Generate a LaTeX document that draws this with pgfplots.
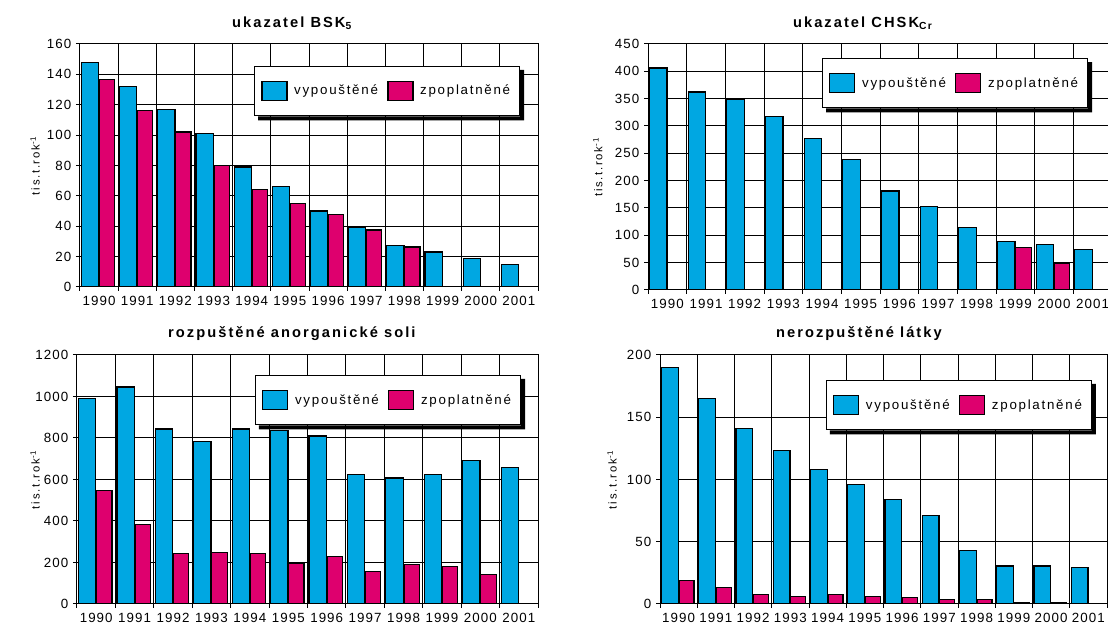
\documentclass[border=0pt]{standalone}
\usepackage{pgfplots}
\pgfplotsset{compat=1.18}
\usepackage{fontspec}
\setmainfont{Liberation Sans}
\newfontfamily\ticksf[LetterSpace=8]{Liberation Sans}
\newfontfamily\legsf[LetterSpace=13]{Liberation Sans}
\newfontfamily\titlesf[LetterSpace=14]{Liberation Sans}
\newfontfamily\ylabsf[LetterSpace=15]{Liberation Sans}
\definecolor{vyp}{RGB}{0,167,226}
\definecolor{zpo}{RGB}{222,0,110}

\pgfplotsset{
  panel/.style={
    scale only axis,
    anchor=north west,
    ybar,
    xmin=-0.5, xmax=11.5, ymin=0,
    xtick={0,...,11},
    xticklabels={1990,1991,1992,1993,1994,1995,1996,1997,1998,1999,2000,2001},
    minor xtick={-0.5,0.5,...,11.5},
    tick align=outside,
    tick pos=left,
    major tick length=3pt, minor tick length=3pt,
    major x tick style={draw=none},
    every tick/.style={black, line width=0.75pt},
    ymajorgrids, xminorgrids,
    grid style={black, line width=0.75pt},
    major grid style={black, line width=0.75pt},
    minor grid style={black, line width=0.75pt},
    axis line style={line width=0.75pt},
    /pgf/number format/assume math mode=true,
    /pgf/number format/1000 sep={},
    tick label style={font=\ticksf\fontsize{10}{12}\selectfont, black},
    ylabel={tis.t.rok\textsuperscript{-1}},
    ylabel style={anchor=center, rotate=0, font=\ylabsf\fontsize{8.5}{10}\selectfont},
    title style={anchor=south, yshift=1pt, font=\titlesf\bfseries\fontsize{11}{13}\selectfont},
    legend columns=2,
    legend style={
      anchor=north west,
      draw=black, line width=0.9pt, fill=white,
      inner xsep=5pt, inner ysep=11pt,
      font=\legsf\fontsize{10}{12}\selectfont,
      /tikz/every odd column/.append style={column sep=3pt},
      /tikz/every even column/.append style={column sep=5pt},
    },
    legend cell align=left,
  },
  vypbar/.style={draw=black, line width=0.9pt, fill=vyp, bar width=0.45, bar shift=-0.235,
    legend image code/.code={\draw[##1] (0pt,-7pt) rectangle (18.75pt,7pt);}},
  zpobar/.style={draw=black, line width=0.9pt, fill=zpo, bar width=0.40, bar shift=0.21,
    legend image code/.code={\draw[##1] (0pt,-7pt) rectangle (18.75pt,7pt);}},
}
\newcommand\legshadow[1]{%
  \fill[black] ([xshift=3pt]#1.south west) -- ([xshift=3pt,yshift=-3pt]#1.south west)
    -- ([xshift=3pt,yshift=-3pt]#1.south east) -- ([xshift=3pt,yshift=-3pt]#1.north east)
    -- ([yshift=-3pt]#1.north east) -- (#1.south east) -- cycle;}

\begin{document}
\begin{tikzpicture}
\clip (0,0) rectangle (831pt,470.25pt);

% Panel 1: BSK5
\begin{axis}[panel,
  at={(60pt,437.25pt)}, width=343.5pt, height=182.25pt,
  ymax=160, ytick={0,20,...,160},
  title={ukazatel BSK\textsubscript{5}},
  title style={at={(0.463,1)}},
  ylabel style={at={(axis description cs:-0.098,0.5)}},
  legend style={at={(0.38,0.91)}, name=L1},
]
\addplot[vypbar] coordinates {(0,148) (1,132) (2,117) (3,101) (4,79) (5,66) (6,50) (7,39) (8,27.5) (9,23) (10,19) (11,15)};
\addplot[zpobar] coordinates {(0,136.5) (1,116) (2,102) (3,80) (4,64) (5,55) (6,47.5) (7,37.5) (8,26.3)};
\legend{vypouštěné, zpoplatněné}
\end{axis}
\legshadow{L1}

% Panel 2: CHSK_Cr
\begin{axis}[panel,
  at={(486pt,437.25pt)}, width=348pt, height=184.5pt,
  ymax=450, ytick={0,50,...,450},
  title={ukazatel CHSK\textsubscript{Cr}},
  title style={at={(0.463,1)}},
  ylabel style={at={(axis description cs:-0.108,0.5)}},
  legend style={at={(0.375,0.943)}, name=L2},
]
\addplot[vypbar] coordinates {(0,406) (1,362) (2,348) (3,318) (4,277) (5,238) (6,181) (7,153) (8,115) (9,89) (10,83) (11,74)};
\addplot[zpobar] coordinates {(9,77) (10,48)};
\legend{vypouštěné, zpoplatněné}
\end{axis}
\legshadow{L2}

% Panel 3: rozpuštěné anorganické soli
\begin{axis}[panel,
  at={(57.75pt,204pt)}, width=345.75pt, height=186.75pt,
  ymax=1200, ytick={0,200,...,1200},
  title={rozpuštěné anorganické soli},
  title style={at={(0.466,1)}},
  ylabel style={at={(axis description cs:-0.091,0.5)}},
  legend style={at={(0.386,0.92)}, name=L3},
]
\addplot[vypbar] coordinates {(0,990) (1,1046) (2,843) (3,785) (4,843) (5,835) (6,810) (7,625) (8,607) (9,625) (10,692) (11,658)};
\addplot[zpobar] coordinates {(0,548) (1,384) (2,243) (3,250) (4,243) (5,198) (6,230) (7,157) (8,189) (9,181) (10,141)};
\legend{vypouštěné, zpoplatněné}
\end{axis}
\legshadow{L3}

% Panel 4: nerozpuštěné látky
\begin{axis}[panel,
  at={(495pt,204pt)}, width=335.25pt, height=186.75pt,
  ymax=200, ytick={0,50,...,200},
  title={nerozpuštěné látky},
  title style={at={(0.445,1)}},
  ylabel style={at={(axis description cs:-0.107,0.5)}},
  legend style={at={(0.371,0.90)}, name=L4},
]
\addplot[vypbar] coordinates {(0,190) (1,165) (2,141) (3,123) (4,108) (5,96) (6,84) (7,71) (8,43) (9,30.5) (10,30.5) (11,29)};
\addplot[zpobar] coordinates {(0,19) (1,13.5) (2,7.8) (3,6.3) (4,7.8) (5,6.3) (6,5) (7,3.5) (8,3.5) (9,1) (10,1)};
\legend{vypouštěné, zpoplatněné}
\end{axis}
\legshadow{L4}
\end{tikzpicture}
\end{document}
